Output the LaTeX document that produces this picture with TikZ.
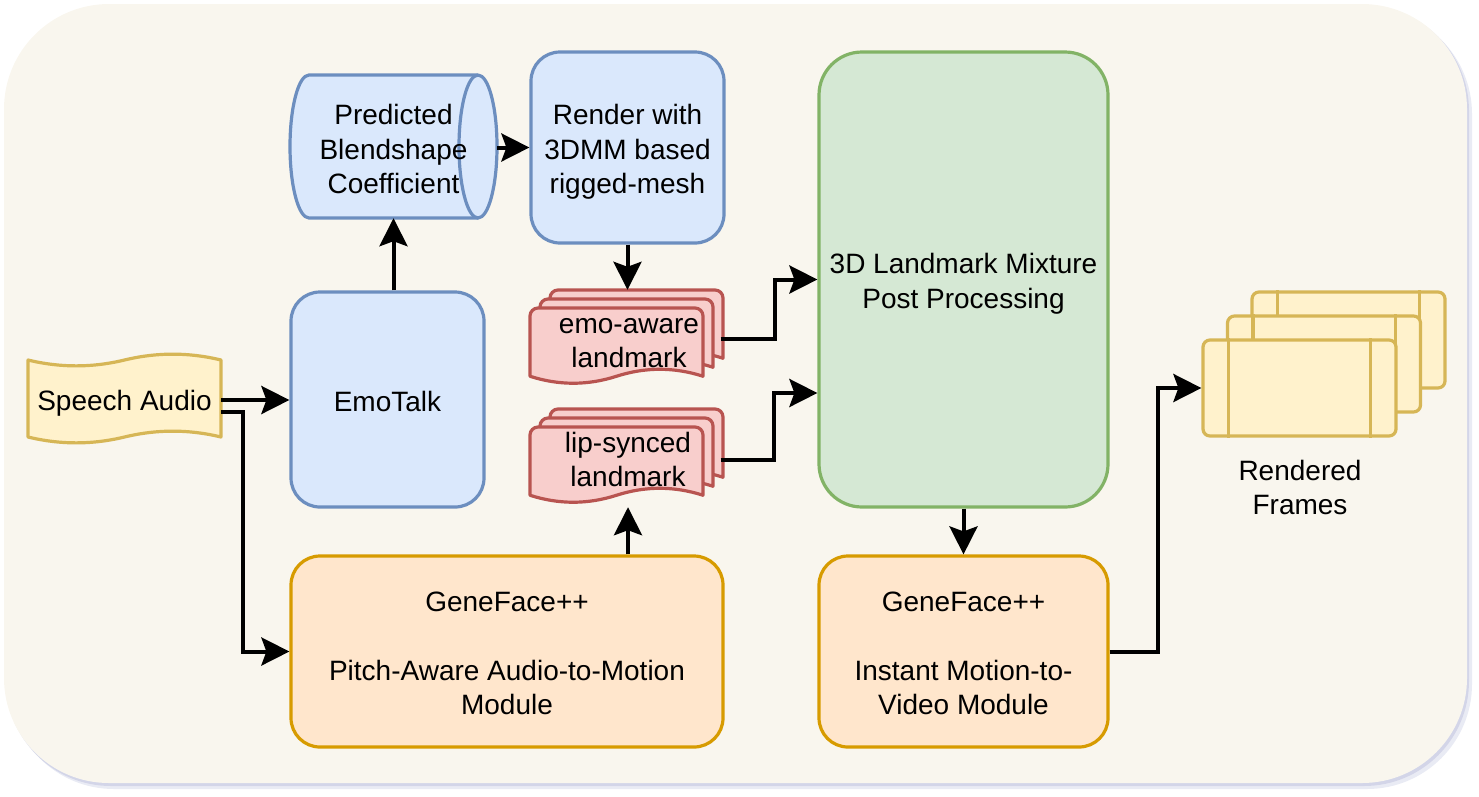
\documentclass[tikz,border=0pt]{standalone}
\usepackage{fontspec}
\setmainfont{Liberation Sans}
\usetikzlibrary{arrows.meta,calc}
\definecolor{bgc}{HTML}{F9F6EE}
\definecolor{shc}{HTML}{A9AED3}
\definecolor{blueF}{HTML}{DAE8FC}
\definecolor{blueD}{HTML}{6C8EBF}
\definecolor{redF}{HTML}{F8CECC}
\definecolor{redD}{HTML}{B85450}
\definecolor{greenF}{HTML}{D5E8D4}
\definecolor{greenD}{HTML}{82B366}
\definecolor{orF}{HTML}{FFE6CC}
\definecolor{orD}{HTML}{D79B00}
\definecolor{yeF}{HTML}{FFF2CC}
\definecolor{yeD}{HTML}{D6B656}

\newcommand\docshape[6]{% x y w h dy style
  \draw[#6] ({#1},{#2+#4-#5/2}) -- ({#1},{#2+8}) .. controls ({#1},{#2+3.6}) and ({#1+3.6},{#2}) .. ({#1+8},{#2})
   -- ({#1+#3-8},{#2}) .. controls ({#1+#3-3.6},{#2}) and ({#1+#3},{#2+3.6}) .. ({#1+#3},{#2+8})
   -- ({#1+#3},{#2+#4-#5/2}) .. controls ({#1+5*#3/6},{#2+#4-1.1*#5}) and ({#1+2*#3/3},{#2+#4-1.1*#5}) .. ({#1+#3/2},{#2+#4-#5/2})
   .. controls ({#1+#3/3},{#2+#4+0.1*#5}) and ({#1+#3/6},{#2+#4+0.1*#5}) .. ({#1},{#2+#4-#5/2}) -- cycle;}
\newcommand\mltext[1]{\raisebox{-4.8pt}[\height][\depth]{\begin{tabular}{@{}c@{}}#1\end{tabular}}}

\tikzset{
  shp/.style={line width=3.2pt, line join=round},
  bluebox/.style={shp, draw=blueD, fill=blueF, rounded corners=29pt},
  greenbox/.style={shp, draw=greenD, fill=greenF, rounded corners=43pt},
  orbox/.style={shp, draw=orD, fill=orF, rounded corners=29pt},
  yebox/.style={shp, draw=yeD, fill=yeF, rounded corners=7pt},
  yeline/.style={shp, draw=yeD},
  redshape/.style={shp, draw=redD, fill=redF},
  yeshape/.style={shp, draw=yeD, fill=yeF},
  blueshape/.style={shp, draw=blueD, fill=blueF},
  lbl/.style={inner sep=0pt, text=black},
  arr/.style={line width=4pt, -{Stealth[length=28pt,width=28pt,inset=5pt]}},
}

\begin{document}
\begin{tikzpicture}[x=1pt,y=-1pt,font=\fontsize{28}{34.5}\selectfont]
\useasboundingbox (0,0) rectangle (1479,796);
% background
\fill[shc, opacity=0.25, rounded corners=105pt] (9,9) rectangle (1472,789);
\fill[shc, opacity=0.35, rounded corners=105pt] (6,6) rectangle (1469,786);
\fill[bgc, rounded corners=105pt] (4,4) rectangle (1467,783);

% Speech audio (tape)
\draw[yeshape] (28,360) .. controls (60.17,367.8) and (92.33,367.8) .. (124.5,360)
  .. controls (156.67,352.2) and (188.83,352.2) .. (221,360) -- (221,437)
  .. controls (188.83,429.2) and (156.67,429.2) .. (124.5,437)
  .. controls (92.33,444.8) and (60.17,444.8) .. (28,437) -- cycle;
\node[lbl, minimum width=193pt, minimum height=90pt] (speech) at (124.5,398.5) {\mltext{Speech Audio}};

% EmoTalk
\node[bluebox, lbl, minimum width=193pt, minimum height=215pt] (emo) at (387.5,399.5) {\mltext{EmoTalk}};

% Cylinder
\fill[blueF] (309,75) rectangle (478,218);
\fill[blueF] (309,146.5) ellipse [x radius=19, y radius=71.5];
\draw[blueshape] (478,146.5) ellipse [x radius=19, y radius=71.5];
\draw[shp, draw=blueD] (478,75) -- (309,75) arc[start angle=270, end angle=90, x radius=19, y radius=71.5] -- (478,218);
\node[lbl, minimum width=207pt, minimum height=143pt] (cyl) at (393.5,147.5) {\mltext{Predicted\\Blendshape\\Coefficient}};

% Render
\node[bluebox, lbl, minimum width=193pt, minimum height=191pt] (render) at (627.5,147.5) {\mltext{Render with\\3DMM based\\rigged-mesh}};

% emo-aware landmark
\docshape{550}{290}{173}{76}{15.5}{redshape}
\docshape{540}{299}{173}{76}{15.5}{redshape}
\docshape{530}{308}{173}{76}{15.5}{redshape}
\node[lbl, minimum width=193pt, minimum height=98pt] (emodoc) at (629,339) {\mltext{emo-aware\\landmark}};

% lip-synced landmark
\docshape{550}{409}{173}{76}{15.5}{redshape}
\docshape{540}{418}{173}{76}{15.5}{redshape}
\docshape{530}{427}{173}{76}{15.5}{redshape}
\node[lbl, minimum width=193pt, minimum height=98pt] (lipdoc) at (628,458) {\mltext{lip-synced\\landmark}};

% mixture
\node[greenbox, lbl, minimum width=289pt, minimum height=455pt] (mix) at (963.5,279.5) {\mltext{3D Landmark Mixture\\Post Processing}};

% GeneFace boxes
\node[orbox, lbl, minimum width=432pt, minimum height=191pt] (genL) at (507,651.5) {\mltext{GeneFace++\\[34.5pt]Pitch-Aware Audio-to-Motion\\Module}};
\node[orbox, lbl, minimum width=289pt, minimum height=191pt] (genR) at (963.5,651.5) {\mltext{GeneFace++\\[34.5pt]Instant Motion-to-\\Video Module}};

% Rendered frames
\node[yebox, minimum width=193pt, minimum height=96pt] (f3) at (1348.5,340) {};
\draw[yeline] ([xshift=27pt]f3.north west) -- ([xshift=27pt]f3.south west);
\draw[yeline] ([xshift=-27pt]f3.north east) -- ([xshift=-27pt]f3.south east);
\node[yebox, minimum width=193pt, minimum height=96pt] (f2) at (1324,364) {};
\draw[yeline] ([xshift=27pt]f2.north west) -- ([xshift=27pt]f2.south west);
\draw[yeline] ([xshift=-27pt]f2.north east) -- ([xshift=-27pt]f2.south east);
\node[yebox, minimum width=193pt, minimum height=96pt] (f1) at (1299.5,388) {};
\draw[yeline] ([xshift=27pt]f1.north west) -- ([xshift=27pt]f1.south west);
\draw[yeline] ([xshift=-27pt]f1.north east) -- ([xshift=-27pt]f1.south east);
\node[lbl] (framelbl) at (1300,486) {\mltext{Rendered\\Frames}};

% connectors
\draw[arr] ([yshift=-1.5pt]speech.east) -- ([yshift=-1.5pt]speech.east -| emo.west);
\draw[arr] ([yshift=-13.5pt]speech.east) -- ++(22,0) |- (genL.west);
\draw[arr] (cyl.south |- emo.north) -- ([yshift=1pt]cyl.south);
\draw[arr] (cyl.east) -- (cyl.east -| render.west);
\draw[arr] (render.south) -- (render.south |- emodoc.north);
\draw[arr] ([xshift=-5pt]emodoc.east) -- ++(54,0) |- (mix.west);
\draw[arr] ([xshift=-4pt,yshift=-2pt]lipdoc.east) -- ++(53,0) |- ([yshift=-113.5pt]mix.west);
\draw[arr] ([xshift=121pt]genL.north) -- ([xshift=121pt]genL.north |- lipdoc.south);
\draw[arr] (mix.south) -- (genR.north);
\draw[arr] (genR.east) -- ++(48,0) |- (f1.west);
\end{tikzpicture}
\end{document}
